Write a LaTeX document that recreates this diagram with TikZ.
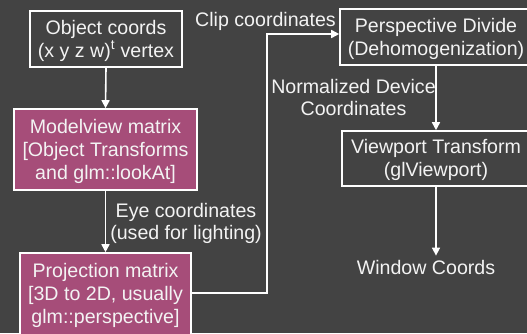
\documentclass[tikz,border=0pt]{standalone}
\usepackage{fontspec}
\setmainfont{Liberation Sans}
\usetikzlibrary{arrows.meta}
\definecolor{bgdark}{HTML}{434343}
\definecolor{stagefill}{HTML}{A64D79}
\definecolor{inkwhite}{HTML}{F3F3F3}
% taller first line, so that box texts sit a little lower
\newcommand{\firststrut}{\rule{0pt}{18pt}}
\tikzset{
  stagebox/.style={draw=white, line width=1.6pt, inner sep=0pt, align=center,
    text=inkwhite, font=\fontsize{19.6}{23}\selectfont},
  darkbox/.style={stagebox, fill=bgdark},
  pinkbox/.style={stagebox, fill=stagefill},
  caption/.style={text=inkwhite, align=center, inner sep=0pt,
    font=\fontsize{19.6}{22}\selectfont},
  flow/.style={draw=white, line width=1.6pt,
    -{Triangle[length=8pt,width=8pt]}}
}
\begin{document}
\begin{tikzpicture}[x=1pt,y=-1pt]
  % canvas
  \fill[bgdark] (0,0) rectangle (527,333);
  \useasboundingbox (0,0) rectangle (527,333);
  \begin{scope}
  \clip (0,0) rectangle (527,333);

  % pipeline stages
  \node[darkbox, minimum width=152pt, minimum height=56pt] (obj) at (106,39)
    {\firststrut Object coords\\(x y z w)\textsuperscript{t} vertex};
  \node[pinkbox, minimum width=183pt, minimum height=81pt] (mv) at (105.5,149.5)
    {\firststrut Modelview matrix\\{}{[}Object Transforms\\and glm::lookAt]};
  \node[pinkbox, minimum width=171pt, minimum height=82pt] (proj) at (105.5,294)
    {\firststrut Projection matrix\\{}{[}3D to 2D, usually\\glm::perspective]};
  \node[darkbox, minimum width=192pt, minimum height=56pt] (persp) at (436,37)
    {\firststrut Perspective Divide\\(Dehomogenization)};
  \node[darkbox, minimum width=188pt, minimum height=55pt] (vp) at (436,158.5)
    {\firststrut Viewport Transform\\(glViewport)};
  \node[caption, inner sep=4pt] (win) at (426,267) {Window Coords};

  % connector labels
  \node[caption] (eyelbl) at (186,223) {Eye coordinates\\(used for lighting)};
  \node[caption] (cliplbl) at (265.5,21.5) {Clip coordinates};
  \node[caption] (ndclbl) at (353.5,97) {Normalized Device\\Coordinates};

  % connectors
  \coordinate (clipturn) at (267,34);
  \draw[flow] (obj.south) -- (mv.north);
  \draw[flow] (mv.south) -- (proj.north);
  \draw[flow] (proj.east |- 0,293) -| (clipturn) -- (clipturn -| persp.west);
  \draw[flow] (persp.south) -- (vp.north);
  \draw[flow] (vp.south) -- (vp.south |- win.north);
  \end{scope}
\end{tikzpicture}
\end{document}
